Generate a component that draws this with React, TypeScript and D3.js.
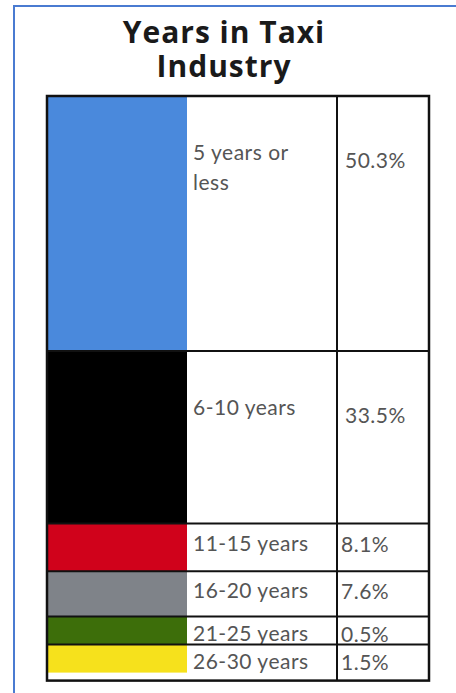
import React from "react";
import * as d3 from "d3";

const titleLines = ["Years in Taxi", "Industry"];
const categories = ["5 years or less", "6-10 years", "11-15 years", "16-20 years", "21-25 years", "26-30 years"];
const values = [50.3, 33.5, 8.1, 7.6, 0.5, 1.5];
const colors = ["#4a89dc", "#000000", "#d0021b", "#7f8389", "#3d6e0a", "#f6e11c"];

const W = 456;
const H = 693;
const tableLeft = 47;
const colorRight = 187;
const valueLeft = 337;
const tableRight = 429;
const tableTop = 96;
const minRow = 28;
const bottomPad = 8;

function wrap(label: string, maxChars: number): string[] {
  const words = label.split(" ");
  const lines: string[] = [];
  let cur = "";
  for (const w of words) {
    const next = cur ? cur + " " + w : w;
    if (next.length > maxChars && cur) {
      lines.push(cur);
      cur = w;
    } else cur = next;
  }
  if (cur) lines.push(cur);
  return lines;
}

export default function App() {
  const hScale = d3.scaleLinear().domain([0, d3.max(values) as number]).range([8, 255]);
  const heights = values.map((v) => Math.max(minRow, hScale(v)));
  const tops: number[] = [];
  let acc = tableTop;
  heights.forEach((h) => {
    tops.push(acc);
    acc += h;
  });
  const tableBottom = acc + bottomPad;
  const fmt = d3.format(".1f");
  const textColor = "#555555";
  const font = "Lato, 'Open Sans', sans-serif";

  return (
    <svg width={W} height={H} style={{ position: "absolute", left: 0, top: 0, background: "#fff" }}>
      <rect x={0} y={0} width={W} height={H} fill="#fff" />
      {/* blue frame */}
      <path d={`M14,${H} L14,6 L${W},6`} fill="none" stroke="#4a7bd1" strokeWidth={2} />
      {/* title */}
      {titleLines.map((t, i) => (
        <text
          key={t}
          x={224}
          y={43 + i * 34}
          textAnchor="middle"
          fontFamily="'Open Sans', Lato, sans-serif"
          fontWeight={700}
          fontSize={30}
          letterSpacing={1}
          fill="#1a1a1a"
        >
          {t}
        </text>
      ))}
      {/* rows */}
      {values.map((v, i) => {
        const top = tops[i];
        const h = heights[i];
        const big = h > 100;
        const base = top + (big ? 64 : Math.min(h - 4, 27));
        const lines = wrap(categories[i], 11);
        return (
          <g key={categories[i]}>
            <rect x={tableLeft} y={top} width={colorRight - tableLeft} height={h} fill={colors[i]} />
            {lines.map((ln, j) => (
              <text
                key={j}
                x={193}
                y={base + j * 30}
                fontFamily={font}
                fontSize={21}
                letterSpacing={0.5}
                fill={textColor}
              >
                {ln}
              </text>
            ))}
            <text
              x={big ? 345 : 341}
              y={base + (big ? 8 : 1)}
              fontFamily={font}
              fontSize={21}
              letterSpacing={0.5}
              fill={textColor}
            >
              {fmt(v)}%
            </text>
          </g>
        );
      })}
      {/* grid lines */}
      {tops.slice(1).map((t, i) => (
        <line key={i} x1={tableLeft} x2={tableRight} y1={t} y2={t} stroke="#111" strokeWidth={2} />
      ))}
      <line x1={valueLeft} x2={valueLeft} y1={tableTop} y2={tableBottom} stroke="#111" strokeWidth={2} />
      <rect
        x={tableLeft}
        y={tableTop}
        width={tableRight - tableLeft}
        height={tableBottom - tableTop}
        fill="none"
        stroke="#111"
        strokeWidth={2.5}
      />
    </svg>
  );
}
